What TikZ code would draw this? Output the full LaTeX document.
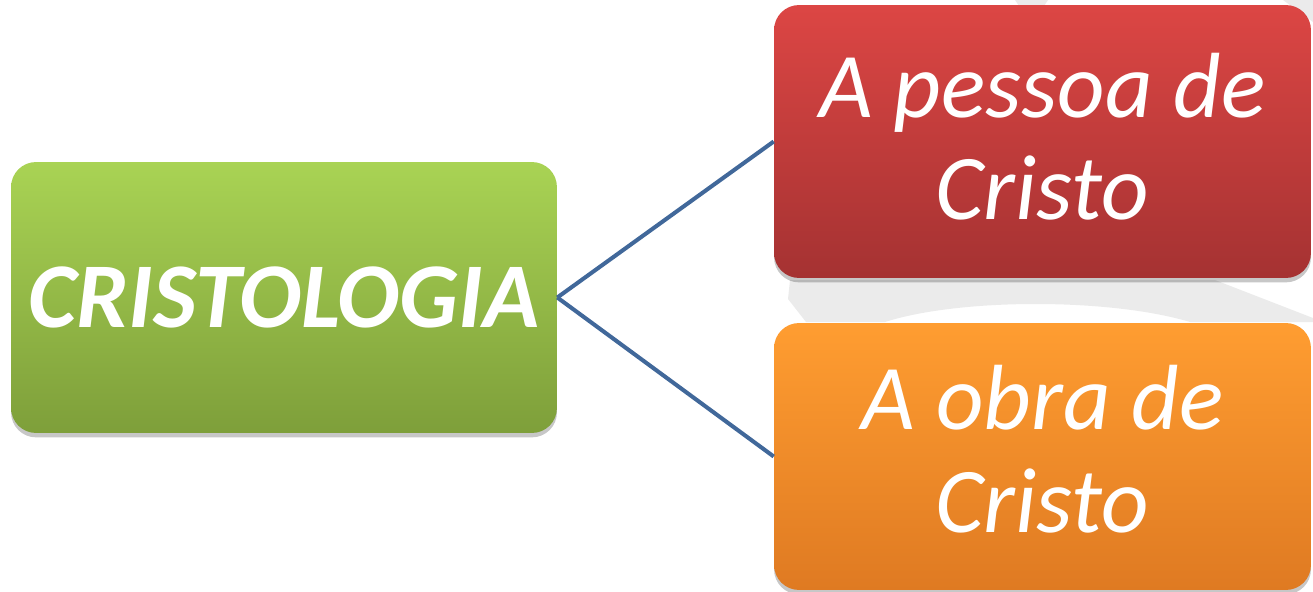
\documentclass[tikz,border=0pt]{standalone}
\usepackage{fontspec}
\setmainfont{Carlito}
\usetikzlibrary{shadows}
\definecolor{gtop}{HTML}{A9D354}
\definecolor{gbot}{HTML}{7E9F3A}
\definecolor{rtop}{HTML}{DC4644}
\definecolor{rbot}{HTML}{A53232}
\definecolor{otop}{HTML}{FF9D31}
\definecolor{obot}{HTML}{DF7A22}
\definecolor{linkblue}{HTML}{41689A}
\definecolor{ringgray}{HTML}{EBEBEB}
\tikzset{
  box/.style={rectangle, rounded corners=0.5cm, draw=none, text=white,
    align=center, inner sep=0pt,
    drop shadow={shadow xshift=0pt, shadow yshift=-2.5pt, opacity=0.22, fill=black},
    font=\fontsize{52.7}{58.4}\selectfont\itshape},
  conn/.style={draw=linkblue, line width=2.3pt},
}
\begin{document}
\begin{tikzpicture}[x=0.02cm,y=-0.02cm]
\useasboundingbox (0,0) rectangle (1313,592);
% background ring fragments
\fill[ringgray] (788,299) -- (806,322) -- (885,322)
  .. controls (960,298) and (1110,298) .. (1190,322) -- (1313,322) -- (1313,318)
  -- (1215,280) -- (790,280) -- cycle;
\fill[ringgray] (1015,0) -- (1048,0) -- (1044,6) -- (1019,6) -- cycle;
\fill[ringgray] (1283,0) -- (1313,0) -- (1313,22) -- cycle;
% nodes
\node[box, minimum width=10.92cm, minimum height=5.42cm,
  top color=gtop, bottom color=gbot,
  font=\fontsize{52.7}{58.4}\selectfont\bfseries\itshape] (g) at (284,297.5) {CRISTOLOGIA};
\node[box, minimum width=10.74cm, minimum height=5.46cm, text depth=5.7pt,
  top color=rtop, bottom color=rbot] (r) at (1042.5,141.5) {A pessoa de\\Cristo};
\node[box, minimum width=10.74cm, minimum height=5.34cm, text depth=8.5pt,
  top color=otop, bottom color=obot] (o) at (1042.5,456.5) {A obra de\\Cristo};
% connectors
\draw[conn] (g.east) -- (r.west);
\draw[conn] (g.east) -- (o.west);
\end{tikzpicture}
\end{document}
